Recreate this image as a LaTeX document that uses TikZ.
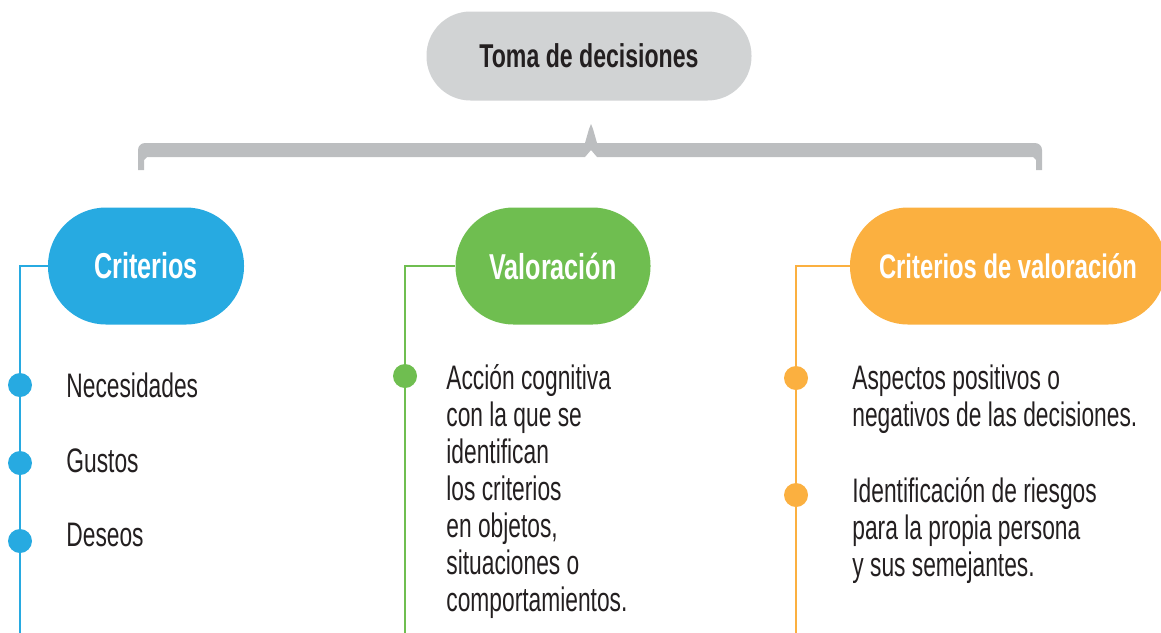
\documentclass[tikz,border=0pt]{standalone}
\usepackage{fontspec}
\setmainfont{Liberation Sans}[FakeStretch=0.67, BoldFeatures={FakeStretch=0.70}]
\usepackage{xcolor}
\usepackage{tikz}
\usetikzlibrary{positioning, calc}

\definecolor{pillgray}{HTML}{D1D3D4}
\definecolor{bracegray}{HTML}{BCBEC0}
\definecolor{critblue}{HTML}{27AAE1}
\definecolor{valgreen}{HTML}{6FBE50}
\definecolor{cvorange}{HTML}{FBB040}
\definecolor{inkdark}{HTML}{231F20}

\begin{document}
\begin{tikzpicture}[
  x=0.5pt, y=-0.5pt,
  pill/.style={rectangle, rounded corners=29pt, minimum height=58.5pt,
               inner sep=0pt, text=white, font=\fontsize{18}{18}\selectfont\bfseries},
  dot/.style={circle, inner sep=0pt, minimum size=12pt},
  item/.style={anchor=north west, inner sep=0pt, align=left, text=inkdark,
               font=\fontsize{17}{18.5}\selectfont},
  stem/.style={line width=1.1pt},
]
  \useasboundingbox (0,0) rectangle (1161,632);

  % cabecera
  \node[pill, fill=pillgray, text=inkdark, minimum width=162.5pt, minimum height=44.5pt,
        rounded corners=22pt, font=\fontsize{16.5}{18}\selectfont\bfseries] (top) at (589,56) {Toma de decisiones};

  % llave
  \fill[bracegray] (138,170) -- (138,150) arc[start angle=180, end angle=270, radius=7]
    -- (585,143) -- (589,129) -- (591,124) -- (593,129) -- (597,143)
    -- (1035,143) arc[start angle=270, end angle=360, radius=7]
    -- (1042,170) -- (1036,170) -- (1036,160) -- (1033,157)
    -- (597,157) -- (591,150) -- (585,157)
    -- (147,157) -- (144,160) -- (144,170) -- cycle;

  % columna 1
  \node[pill, fill=critblue, minimum width=98pt] (crit) at (146,266) {Criterios};
  \coordinate (critend) at (20,640);
  \draw[stem, critblue] (crit.west) -| (critend);
  \node[dot, fill=critblue] (c1) at (20,385) {};
  \node[dot, fill=critblue] (c2) at (20,463) {};
  \node[dot, fill=critblue] (c3) at (20,541) {};
  \node[item] (c1t) at (66,372) {Necesidades};
  \node[item] (c2t) at (66,448) {Gustos};
  \node[item] (c3t) at (66,523) {Deseos};

  % columna 2
  \node[pill, fill=valgreen, minimum width=97.5pt] (val) at (553,266) {Valoración};
  \coordinate (valend) at (405,640);
  \draw[stem, valgreen] (val.west) -| (valend);
  \node[dot, fill=valgreen] (v1) at (405,376) {};
  \node[item] (v1t) at (446,364) {Acción cognitiva\\con la que se\\identifican\\los criterios\\en objetos,\\situaciones o\\comportamientos.};

  % columna 3
  \begin{scope}
    \clip (0,0) rectangle (1161,632);
    \node[pill, fill=cvorange, minimum width=158pt, font=\fontsize{17}{18}\selectfont\bfseries] (cval) at (1008,266) {Criterios de valoración};
  \end{scope}
  \coordinate (cvalend) at (796,640);
  \draw[stem, cvorange] (cval.west) -| (cvalend);
  \node[dot, fill=cvorange] (o1) at (796,378) {};
  \node[dot, fill=cvorange] (o2) at (796,495) {};
  \node[item] (o1t) at (852,364) {Aspectos positivos o\\negativos de las decisiones.};
  \node[item] (o2t) at (852,477) {Identificación de riesgos\\para la propia persona\\y sus semejantes.};
\end{tikzpicture}
\end{document}
